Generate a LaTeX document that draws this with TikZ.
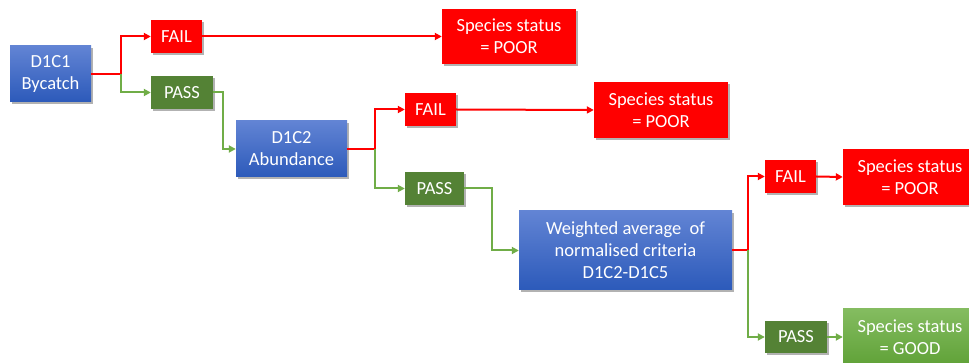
\documentclass[tikz,border=0pt]{standalone}
\usepackage{fontspec}
\setmainfont{Carlito}
\usetikzlibrary{arrows.meta,shadows}
\definecolor{bluetop}{RGB}{98,132,212}
\definecolor{bluebot}{RGB}{44,90,186}
\definecolor{myred}{RGB}{255,0,0}
\definecolor{darkgreen}{RGB}{84,130,53}
\definecolor{lightgreen}{RGB}{112,173,71}
\definecolor{goodtop}{RGB}{132,188,96}
\definecolor{goodbot}{RGB}{96,162,56}
\begin{document}
\begin{tikzpicture}[x=1pt,y=-1pt,
  box/.style={rectangle, inner sep=0pt, text=white, align=center,
    font=\fontsize{18.5}{22}\selectfont,
    drop shadow={shadow xshift=1.5pt,shadow yshift=-1.8pt,opacity=0.3,fill=black}},
  bluebox/.style={box, top color=bluetop, bottom color=bluebot},
  redbox/.style={box, fill=myred},
  passbox/.style={box, fill=darkgreen},
  goodbox/.style={box, top color=goodtop, bottom color=goodbot},
  redline/.style={draw=myred, line width=2pt, -{Triangle[length=7pt,width=7pt]}},
  greenline/.style={draw=lightgreen, line width=2pt, -{Triangle[length=7pt,width=7pt]}}]
\useasboundingbox (0,0) rectangle (969,363);
\fill[white] (0,0) rectangle (969,363);
% nodes
\node[bluebox, minimum width=81pt, minimum height=56pt] (d1c1) at (50.5,74) {D1C1\\Bycatch};
\node[redbox, minimum width=51pt, minimum height=33pt] (fail1) at (176.5,36.5) {FAIL};
\node[passbox, minimum width=62pt, minimum height=33pt] (pass1) at (182,92.5) {PASS};
\node[redbox, minimum width=134pt, minimum height=55pt] (poor1) at (509,36.5) {Species status\\= POOR};
\node[bluebox, minimum width=111pt, minimum height=56pt] (d1c2) at (291.5,149) {D1C2\\Abundance};
\node[redbox, minimum width=51pt, minimum height=33pt] (fail2) at (430.5,109.5) {FAIL};
\node[redbox, minimum width=134pt, minimum height=56pt] (poor2) at (661,110) {Species status\\= POOR};
\node[passbox, minimum width=59pt, minimum height=33pt] (pass2) at (434.5,188.5) {PASS};
\node[bluebox, minimum width=213pt, minimum height=79pt] (wavg) at (625.5,250.5) {Weighted average\ \ of\\normalised criteria\\D1C2-D1C5};
\node[redbox, minimum width=51pt, minimum height=33pt] (fail3) at (790.5,176.5) {FAIL};
\node[redbox, minimum width=134pt, minimum height=56pt] (poor3) at (910,177) {Species status\\= POOR};
\node[passbox, minimum width=62pt, minimum height=32pt] (pass3) at (796,337) {PASS};
\node[goodbox, minimum width=134pt, minimum height=56pt] (good) at (910,337) {Species status\\= GOOD};
% branch points
\coordinate (b1) at (121,74);
\coordinate (b2) at (375,149);
\coordinate (b3) at (748,250.5);
\coordinate (k1) at (223,92.5);
\coordinate (k2) at (492,188.5);
% connectors
\draw[redline] (d1c1.east) -- (b1) |- (fail1.west);
\draw[greenline] (b1) |- (pass1.west);
\draw[redline] (fail1.east) -- (poor1.west);
\draw[greenline] (pass1.east) -- (k1) |- (d1c2.west);
\draw[redline] (d1c2.east) -- (b2) |- (fail2.west);
\draw[greenline] (b2) |- (pass2.west);
\draw[redline] (fail2.east) -- (poor2.west);
\draw[greenline] (pass2.east) -- (k2) |- (wavg.west);
\draw[redline] (wavg.east) -- (b3) |- (fail3.west);
\draw[greenline] (b3) |- (pass3.west);
\draw[redline] (fail3.east) -- (poor3.west);
\draw[greenline] (pass3.east) -- (good.west);
\end{tikzpicture}
\end{document}
